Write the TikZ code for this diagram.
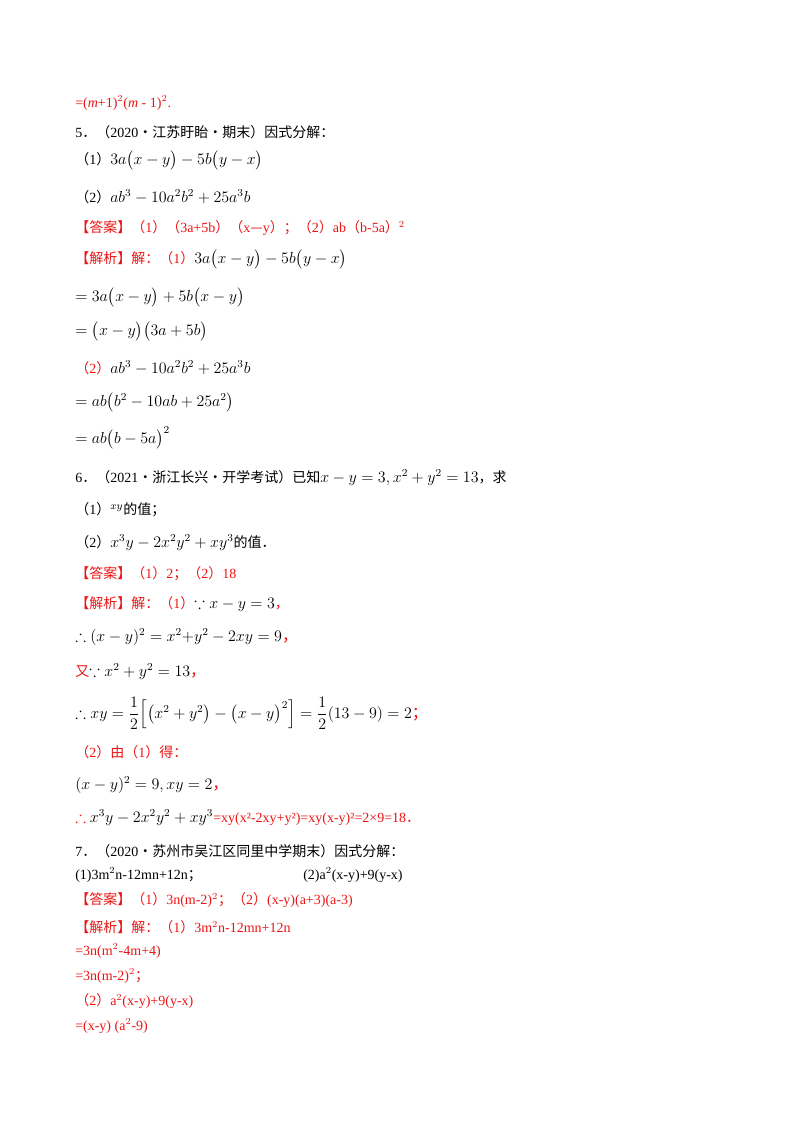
\documentclass[tikz,border=0pt]{standalone}
\usepackage{amsmath,amssymb}
\usepackage{fontspec}
\setmainfont{Liberation Serif}
\newfontfamily\cjk{Noto Sans CJK SC}
\definecolor{ansred}{RGB}{235,20,20}
\newcommand{\zh}[1]{{\cjk #1}}
\newcommand{\rd}[1]{\textcolor{ansred}{#1}}
\newcommand{\tn}{\fontsize{10.5}{12}\selectfont}
\begin{document}
\begin{tikzpicture}[x=0.75pt,y=-0.75pt,
  ln/.style={anchor=west,inner sep=0pt,font=\fontsize{10.5}{12}\selectfont},
  mth/.style={ln,font=\fontsize{12}{14}\selectfont}]
\useasboundingbox (0,0) rectangle (800,1132);
\node[ln] (l1) at (75,103) {\rd{=(\textit{m}+1)$^2$(\textit{m} - 1)$^2$.}};
\node[ln] (l2) at (75,132) {5\zh{．（}2020\zh{·江苏盱眙·期末）因式分解：}};
\node[mth] (l3) at (75,160) {{\tn\zh{（}1\zh{）}}$3a\big(x-y\big)-5b\big(y-x\big)$};
\node[mth] (l4) at (75,197) {{\tn\zh{（}2\zh{）}}$ab^3-10a^2b^2+25a^3b$};
\node[ln] (l5) at (75,228) {\rd{\zh{【答案】（}1\zh{）（}3a+5b\zh{）（}x\zh{—}y\zh{）；（}2\zh{）}ab\zh{（}b-5a\zh{）}$^{2}$}};
\node[ln] (l6) at (75,259) {\rd{\zh{【解析】解：（}1\zh{）}}\fontsize{12}{14}\selectfont$3a\big(x-y\big)-5b\big(y-x\big)$};
\node[mth] (l7) at (75,297) {$=3a\big(x-y\big)+5b\big(x-y\big)$};
\node[mth] (l8) at (75,331) {$=\big(x-y\big)\big(3a+5b\big)$};
\node[ln] (l9) at (75,368) {\rd{\zh{（}2\zh{）}}\fontsize{12}{14}\selectfont$ab^3-10a^2b^2+25a^3b$};
\node[mth] (l10) at (75,402) {$=ab\big(b^2-10ab+25a^2\big)$};
\node[mth] (l11) at (75,438) {$=ab\big(b-5a\big)^2$};
\node[ln] (l12) at (75,478) {6\zh{．（}2021\zh{·浙江长兴·开学考试）已知}{\fontsize{12}{14}\selectfont$x-y=3,x^2+y^2=13$}\zh{，求}};
\node[ln] (l13) at (75,510) {\zh{（}1\zh{）}{\fontsize{12}{14}\selectfont$^{xy}$}\zh{的值；}};
\node[ln] (l14) at (75,543) {\zh{（}2\zh{）}{\fontsize{12}{14}\selectfont$x^3y-2x^2y^2+xy^3$}\zh{的值．}};
\node[ln] (l15) at (75,574) {\rd{\zh{【答案】（}1\zh{）}2\zh{；（}2\zh{）}18}};
\node[ln] (l16) at (75,604) {\rd{\zh{【解析】解：（}1\zh{）}}{\fontsize{12}{14}\selectfont$\because x-y=3$}\rd{\zh{，}}};
\node[mth] (l17) at (75,637) {$\therefore (x-y)^2=x^2{+}y^2-2xy=9$\rd{\zh{，}}};
\node[mth] (l18) at (75,672) {\rd{\tn\zh{又}}$\because x^2+y^2=13$\rd{\zh{，}}};
\node[mth] (l19) at (75,713) {$\therefore xy=\dfrac{1}{2}\Big[\big(x^2+y^2\big)-\big(x-y\big)^2\Big]=\dfrac{1}{2}(13-9)=2$\rd{\zh{；}}};
\node[ln] (l20) at (75,752) {\rd{\zh{（}2\zh{）由（}1\zh{）得：}}};
\node[mth] (l21) at (75,785) {$(x-y)^2=9,xy=2$\rd{\zh{，}}};
\node[mth] (l22) at (75,818) {\rd{$\therefore$} $x^3y-2x^2y^2+xy^3$\rd{\tn =xy(x²-2xy+y²)=xy(x-y)²=2×9=18\zh{．}}};
\node[ln] (l23) at (75,851) {7\zh{．（}2020\zh{·苏州市吴江区同里中学期末）因式分解：}};
\node[ln] (l24) at (75,875) {(1)3m$^2$n-12mn+12n\zh{；}};
\node[ln] (l24b) at (303,875) {(2)a$^2$(x-y)+9(y-x)};
\node[ln] (l25) at (75,900) {\rd{\zh{【答案】（}1\zh{）}3n(m-2)$^2$\zh{；（}2\zh{）}(x-y)(a+3)(a-3)}};
\node[ln] (l26) at (75,927) {\rd{\zh{【解析】解：（}1\zh{）}3m$^2$n-12mn+12n}};
\node[ln] (l27) at (75,951) {\rd{=3n(m$^2$-4m+4)}};
\node[ln] (l28) at (75,976) {\rd{=3n(m-2)$^2$\zh{；}}};
\node[ln] (l29) at (75,1001) {\rd{\zh{（}2\zh{）}a$^2$(x-y)+9(y-x)}};
\node[ln] (l30) at (75,1026) {\rd{=(x-y) (a$^2$-9)}};
\end{tikzpicture}
\end{document}
